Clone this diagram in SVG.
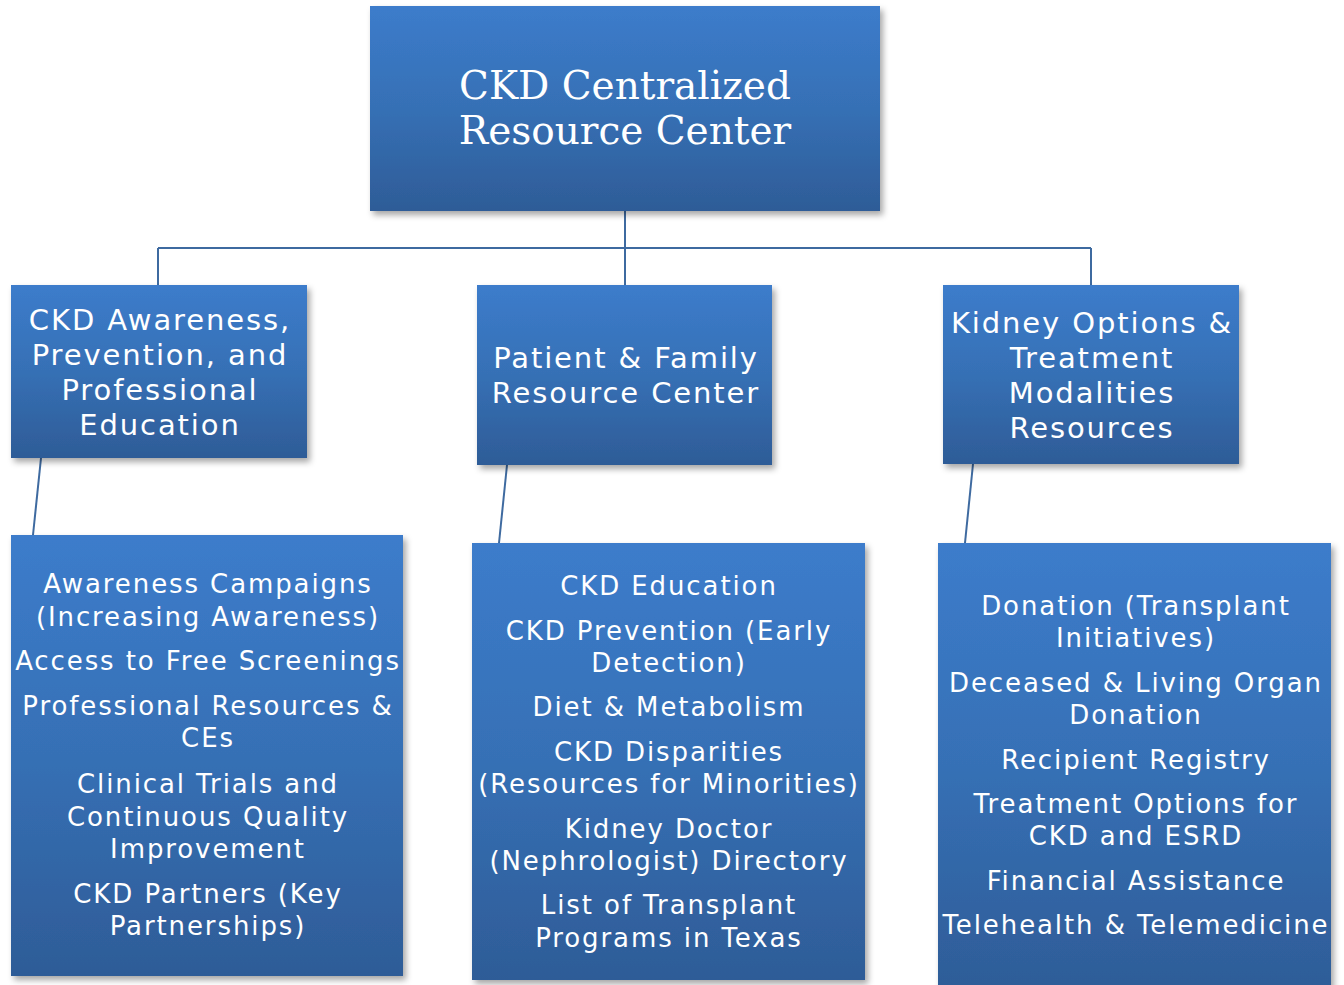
<svg xmlns="http://www.w3.org/2000/svg" width="1344" height="985" viewBox="0 0 1344 985">
<defs>
<linearGradient id="g" x1="0" y1="0" x2="0" y2="1">
<stop offset="0" stop-color="#3c7ccb"/>
<stop offset="0.5" stop-color="#3670b5"/>
<stop offset="1" stop-color="#2e5c97"/>
</linearGradient>
<filter id="sh" x="-10%" y="-10%" width="125%" height="125%">
<feDropShadow dx="3" dy="4" stdDeviation="3" flood-color="#000" flood-opacity="0.35"/>
</filter>
</defs>
<style>
.box{fill:url(#g);filter:url(#sh)}
.t{fill:#fff;font-family:"DejaVu Sans",Verdana,sans-serif;text-anchor:middle;letter-spacing:1.9px}
.m{font-size:29px}
.s{font-size:26px}
.title{fill:#fff;font-family:"DejaVu Serif","Liberation Serif",serif;font-size:39px;text-anchor:middle}
.c{stroke:#3e6aa0;stroke-width:2;fill:none}
</style>
<g id="connectors">
<line class="c" x1="625" y1="211" x2="625" y2="285"/>
<line class="c" x1="158" y1="248" x2="1091" y2="248"/>
<line class="c" x1="158" y1="248" x2="158" y2="285"/>
<line class="c" x1="1091" y1="248" x2="1091" y2="285"/>
<line class="c" x1="41" y1="458" x2="33" y2="535"/>
<line class="c" x1="507" y1="465" x2="499" y2="543"/>
<line class="c" x1="973" y1="464" x2="965" y2="543"/>
</g>
<g id="root">
<rect class="box" x="370" y="6" width="510" height="205"/>
<text class="title" x="625" y="99">CKD Centralized</text>
<text class="title" x="625" y="144">Resource Center</text>
</g>
<g id="awareness">
<rect class="box" x="11" y="285" width="296" height="173"/>
<text class="t m" x="160" y="330">CKD Awareness,</text>
<text class="t m" x="160" y="365">Prevention, and</text>
<text class="t m" x="160" y="400">Professional</text>
<text class="t m" x="160" y="435">Education</text>
</g>
<g id="patient">
<rect class="box" x="477" y="285" width="295" height="180"/>
<text class="t m" x="626" y="368">Patient &amp; Family</text>
<text class="t m" x="626" y="403">Resource Center</text>
</g>
<g id="kidney">
<rect class="box" x="943" y="285" width="296" height="179"/>
<text class="t m" x="1092" y="333">Kidney Options &amp;</text>
<text class="t m" x="1092" y="368">Treatment</text>
<text class="t m" x="1092" y="403">Modalities</text>
<text class="t m" x="1092" y="438">Resources</text>
</g>
<g id="awareness-items">
<rect class="box" x="11" y="535" width="392" height="441"/>
<text class="t s" x="208" y="593">Awareness Campaigns</text>
<text class="t s" x="208" y="626">(Increasing Awareness)</text>
<text class="t s" x="208" y="670">Access to Free Screenings</text>
<text class="t s" x="208" y="715">Professional Resources &amp;</text>
<text class="t s" x="208" y="747">CEs</text>
<text class="t s" x="208" y="793">Clinical Trials and</text>
<text class="t s" x="208" y="826">Continuous Quality</text>
<text class="t s" x="208" y="858">Improvement</text>
<text class="t s" x="208" y="903">CKD Partners (Key</text>
<text class="t s" x="208" y="935">Partnerships)</text>
</g>
<g id="patient-items">
<rect class="box" x="472" y="543" width="393" height="437"/>
<text class="t s" x="669" y="595">CKD Education</text>
<text class="t s" x="669" y="640">CKD Prevention (Early</text>
<text class="t s" x="669" y="672">Detection)</text>
<text class="t s" x="669" y="716">Diet &amp; Metabolism</text>
<text class="t s" x="669" y="761">CKD Disparities</text>
<text class="t s" x="669" y="793">(Resources for Minorities)</text>
<text class="t s" x="669" y="838">Kidney Doctor</text>
<text class="t s" x="669" y="870">(Nephrologist) Directory</text>
<text class="t s" x="669" y="914">List of Transplant</text>
<text class="t s" x="669" y="947">Programs in Texas</text>
</g>
<g id="kidney-items">
<rect class="box" x="938" y="543" width="393" height="450"/>
<text class="t s" x="1136" y="615">Donation (Transplant</text>
<text class="t s" x="1136" y="647">Initiatives)</text>
<text class="t s" x="1136" y="692">Deceased &amp; Living Organ</text>
<text class="t s" x="1136" y="724">Donation</text>
<text class="t s" x="1136" y="769">Recipient Registry</text>
<text class="t s" x="1136" y="813">Treatment Options for</text>
<text class="t s" x="1136" y="845">CKD and ESRD</text>
<text class="t s" x="1136" y="890">Financial Assistance</text>
<text class="t s" x="1136" y="934">Telehealth &amp; Telemedicine</text>
</g>
</svg>
